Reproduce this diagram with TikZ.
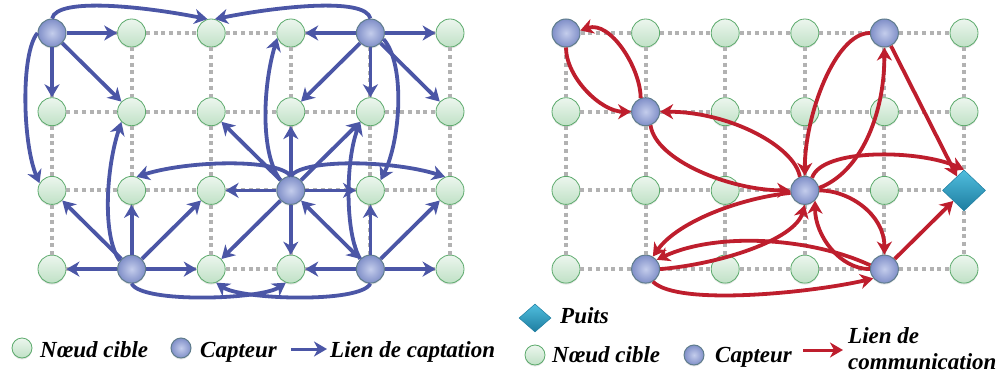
\documentclass[tikz,border=0pt]{standalone}
\usepackage{fontspec}
\setmainfont{Liberation Serif}
\usetikzlibrary{arrows.meta,shapes.geometric,shadows}
\definecolor{blu}{RGB}{75,86,166}
\definecolor{rd}{RGB}{190,30,45}
\definecolor{grd}{RGB}{178,178,178}
\definecolor{tgtTop}{RGB}{236,246,238}
\definecolor{tgtBot}{RGB}{192,225,198}
\definecolor{tgtEdge}{RGB}{92,170,108}
\definecolor{senIn}{RGB}{196,205,236}
\definecolor{senOut}{RGB}{128,143,200}
\definecolor{senEdge}{RGB}{95,125,140}
\definecolor{sinkTop}{RGB}{80,190,222}
\definecolor{sinkBot}{RGB}{30,125,160}
\tikzset{
 target/.style={circle, minimum size=28pt, inner sep=0pt, draw=tgtEdge, line width=0.8pt,
   top color=tgtTop, bottom color=tgtBot,
   drop shadow={shadow xshift=0pt,shadow yshift=-1.5pt,opacity=0.2}},
 sensor/.style={circle, minimum size=28pt, inner sep=0pt, draw=senEdge, line width=1pt,
   inner color=senIn, outer color=senOut,
   drop shadow={shadow xshift=0pt,shadow yshift=-1.5pt,opacity=0.2}},
 sink/.style={diamond, minimum width=43pt, minimum height=41pt, inner sep=0pt, draw=sinkBot,
   line width=0.5pt, top color=sinkTop, bottom color=sinkBot},
 gridline/.style={grd, line width=4pt, dash pattern=on 4pt off 3.7pt},
 tipb/.tip={Stealth[length=13pt,width=15pt,inset=4pt]},
 barrow/.style={blu, line width=3.8pt, -tipb},
 rarrow/.style={rd, line width=3.8pt, -tipb},
 lbl/.style={font=\fontsize{23}{26}\selectfont\bfseries\itshape, inner sep=0pt, anchor=base west},
}
\begin{document}
\begin{tikzpicture}[x=1pt,y=1pt]
\useasboundingbox (0,0) rectangle (1003,378);
% ---------- left grid ----------
\foreach \c/\r/\k in {0/0/sensor,1/0/target,2/0/target,3/0/target,4/0/sensor,5/0/target,
  0/1/target,1/1/target,2/1/target,3/1/target,4/1/target,5/1/target,
  0/2/target,1/2/target,2/2/target,3/2/sensor,4/2/target,5/2/target,
  0/3/target,1/3/sensor,2/3/target,3/3/target,4/3/sensor,5/3/target}
  \node[\k] (L\c\r) at ({52+79.6*\c},{345-78.7*\r}) {};
% ---------- right grid ----------
\foreach \c/\r/\k in {0/0/sensor,1/0/target,2/0/target,3/0/target,4/0/sensor,5/0/target,
  0/1/target,1/1/sensor,2/1/target,3/1/target,4/1/target,5/1/target,
  0/2/target,1/2/target,2/2/target,3/2/sensor,4/2/target,5/2/sink,
  0/3/target,1/3/sensor,2/3/target,3/3/target,4/3/sensor,5/3/target}
  \node[\k] (R\c\r) at ({566+79.6*\c},{345-78.7*\r}) {};
% ---------- dotted grid lines ----------
\foreach \g in {L,R}{
  \foreach \r in {0,...,3}{
    \foreach \c [evaluate=\c as \cn using int(\c+1)] in {0,...,4}{
      \draw[gridline] (\g\c\r) -- (\g\cn\r);}}
  \foreach \c in {0,...,5}{
    \foreach \r [evaluate=\r as \rn using int(\r+1)] in {0,...,2}{
      \draw[gridline] (\g\c\r) -- (\g\c\rn);}}
}
% ---------- left: sensing links ----------
% sensor L00
\draw[barrow] (L00) -- (L10);
\draw[barrow] (L00) -- (L01);
\draw[barrow] (L00) -- (L11);
\draw[barrow] (L00.north) .. controls +(5,22) and +(-60,12) .. (L20.105);
\draw[barrow] (L00.west) .. controls +(-17,-20) and +(-17,40) .. (L02.150);
% sensor L40
\draw[barrow] (L40) -- (L30);
\draw[barrow] (L40) -- (L50);
\draw[barrow] (L40) -- (L41);
\draw[barrow] (L40) -- (L31);
\draw[barrow] (L40) -- (L51);
\draw[barrow] (L40.north) .. controls +(-5,22) and +(60,12) .. (L20.75);
\draw[barrow] (L40.-25) .. controls +(22,-25) and +(20,40) .. (L42.45);
% sensor L32
\draw[barrow] (L32) -- (L22);
\draw[barrow] (L32) -- (L42);
\draw[barrow] (L32) -- (L31);
\draw[barrow] (L32) -- (L33);
\draw[barrow] (L32) -- (L21);
\draw[barrow] (L32) -- (L41);
\draw[barrow] (L32) -- (L23);
\draw[barrow, tipb-tipb] (L32) -- (L43);
\draw[barrow] (L32.north) .. controls +(-15,18) and +(50,16) .. (L12.70);
\draw[barrow] (L32.north) .. controls +(15,18) and +(-50,16) .. (L52.110);
\draw[barrow] (L32.135) .. controls +(-20,25) and +(-15,-50) .. (L30.200);
% sensor L13
\draw[barrow] (L13) -- (L03);
\draw[barrow] (L13) -- (L23);
\draw[barrow] (L13) -- (L12);
\draw[barrow] (L13) -- (L02);
\draw[barrow] (L13) -- (L22);
\draw[barrow] (L13.145) .. controls +(-18,25) and +(-15,-45) .. (L11.225);
\draw[barrow] (L13.south) .. controls +(10,-20) and +(-25,-17) .. (L33.250);
% sensor L43
\draw[barrow] (L43) -- (L33);
\draw[barrow] (L43) -- (L53);
\draw[barrow] (L43) -- (L42);
\draw[barrow] (L43) -- (L52);
\draw[barrow] (L43.135) .. controls +(-15,25) and +(-15,-40) .. (L41.225);
\draw[barrow] (L43.south) .. controls +(-10,-20) and +(25,-17) .. (L23.290);
% ---------- right: communication links ----------
\draw[rarrow] (R11.110) .. controls +(0,30) and +(30,10) .. (R00.10);
\draw[rarrow] (R00.south) .. controls +(0,-30) and +(-30,0) .. (R11.west);
\draw[rarrow] (R32.110) .. controls +(-5,30) and +(70,0) .. (R11.east);
\draw[rarrow] (R11.-70) .. controls +(5,-35) and +(-60,0) .. (R32.west);
\draw[rarrow] (R40.west) .. controls +(-35,0) and +(0,60) .. (R32.north);
\draw[rarrow] (R32.10) .. controls +(40,15) and +(0,-70) .. (R40.south);
\draw[rarrow] (R40) -- (R52);
\draw[rarrow] (R43) -- (R52);
\draw[rarrow] (R32.60) .. controls +(10,30) and +(-45,20) .. (R52.north);
\draw[rarrow] (R32.east) .. controls +(30,0) and +(0,40) .. (R43.north);
\draw[rarrow] (R43.west) .. controls +(-30,0) and +(0,-35) .. (R32.-45);
\draw[rarrow] (R13.east) .. controls +(60,5) and +(-10,-35) .. (R32.south);
\draw[rarrow] (R32.190) .. controls +(-50,-5) and +(25,35) .. (R13.60);
\draw[rarrow] (R43.165) .. controls +(-60,28) and +(60,28) .. (R13.40);
\draw[rarrow] (R13.-60) .. controls +(25,-25) and +(-60,-14) .. (R43.220);
% ---------- legends ----------
\node[target, minimum size=20pt] (lgT1) at (22,30) {};
\node[lbl] (lgT1t) at (40,21) {Nœud cible};
\node[sensor, minimum size=20pt] (lgS1) at (181,30) {};
\node[lbl] (lgS1t) at (200,21) {Capteur};
\coordinate (lgA1s) at (291,29);
\coordinate (lgA1e) at (327,29);
\draw[barrow, line width=3pt] (lgA1s) -- (lgA1e);
\node[lbl] (lgA1t) at (330,21) {Lien de captation};
\node[sink, minimum width=32pt, minimum height=28pt] (lgK) at (535,60) {};
\node[lbl] (lgKt) at (560,55) {Puits};
\node[target, minimum size=20pt] (lgT2) at (535,23) {};
\node[lbl] (lgT2t) at (552,16) {Nœud cible};
\node[sensor, minimum size=20pt] (lgS2) at (694,23) {};
\node[lbl] (lgS2t) at (715,16) {Capteur};
\coordinate (lgA2s) at (803,28);
\coordinate (lgA2e) at (843,28);
\draw[rarrow, line width=3pt] (lgA2s) -- (lgA2e);
\node[lbl] (lgA2t) at (848,35) {Lien de};
\node[lbl] (lgA2u) at (848,9) {communication};
\end{tikzpicture}
\end{document}
